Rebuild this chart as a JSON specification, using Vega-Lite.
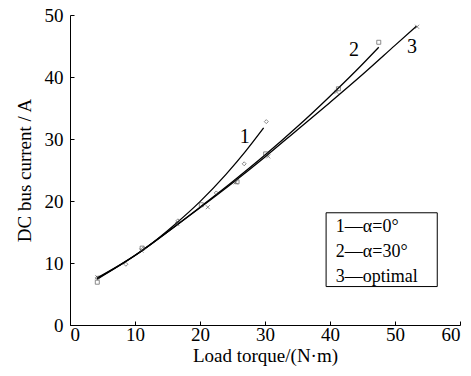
{
  "$schema": "https://vega.github.io/schema/vega-lite/v6.json",
  "autosize": {"type": "none"},
  "padding": {"left": 70, "top": 15, "right": 11, "bottom": 51},
  "width": 390,
  "height": 310,
  "background": "white",
  "config": {
    "view": {"stroke": null},
    "font": "Liberation Serif",
    "axis": {"labelFont": "Liberation Serif", "titleFont": "Liberation Serif", "labelFontSize": 19, "titleFontSize": 19, "titleFontWeight": "normal", "labelColor": "black", "titleColor": "black", "domainColor": "black", "tickColor": "black", "grid": false, "tickSize": -4}
  },
  "datasets": {
    "lines": [
      {"curve": "1", "x": 4.2, "y": 7.6}, {"curve": "1", "x": 8, "y": 9.9}, {"curve": "1", "x": 12, "y": 12.7}, {"curve": "1", "x": 16, "y": 16.1}, {"curve": "1", "x": 20, "y": 19.9}, {"curve": "1", "x": 24, "y": 24.3}, {"curve": "1", "x": 27, "y": 28.0}, {"curve": "1", "x": 29.8, "y": 31.8},
      {"curve": "2", "x": 4.2, "y": 7.4}, {"curve": "2", "x": 10, "y": 11.2}, {"curve": "2", "x": 15, "y": 15.0}, {"curve": "2", "x": 20, "y": 19.0}, {"curve": "2", "x": 25, "y": 23.1}, {"curve": "2", "x": 30, "y": 27.4}, {"curve": "2", "x": 35, "y": 32.0}, {"curve": "2", "x": 40, "y": 36.9}, {"curve": "2", "x": 44, "y": 41.0}, {"curve": "2", "x": 47.5, "y": 44.8},
      {"curve": "3", "x": 4.2, "y": 7.5}, {"curve": "3", "x": 10, "y": 11.2}, {"curve": "3", "x": 15, "y": 15.0}, {"curve": "3", "x": 20, "y": 18.9}, {"curve": "3", "x": 25, "y": 22.9}, {"curve": "3", "x": 30, "y": 27.1}, {"curve": "3", "x": 35, "y": 31.5}, {"curve": "3", "x": 40, "y": 35.9}, {"curve": "3", "x": 45, "y": 40.4}, {"curve": "3", "x": 50, "y": 45.1}, {"curve": "3", "x": 53.3, "y": 48.2}
    ],
    "points": [
      {"curve": "1", "x": 4.2, "y": 7.6}, {"curve": "1", "x": 8.6, "y": 9.8}, {"curve": "1", "x": 11.3, "y": 12.3}, {"curve": "1", "x": 16.6, "y": 16.8}, {"curve": "1", "x": 22.5, "y": 21.3}, {"curve": "1", "x": 26.8, "y": 26.0}, {"curve": "1", "x": 30.2, "y": 32.8},
      {"curve": "2", "x": 4.2, "y": 6.9}, {"curve": "2", "x": 11.1, "y": 12.4}, {"curve": "2", "x": 20.2, "y": 19.4}, {"curve": "2", "x": 25.7, "y": 23.1}, {"curve": "2", "x": 30.1, "y": 27.6}, {"curve": "2", "x": 41.3, "y": 38.1}, {"curve": "2", "x": 47.5, "y": 45.6},
      {"curve": "3", "x": 4.2, "y": 7.7}, {"curve": "3", "x": 11.0, "y": 12.0}, {"curve": "3", "x": 16.5, "y": 16.3}, {"curve": "3", "x": 21.2, "y": 19.0}, {"curve": "3", "x": 25.5, "y": 23.0}, {"curve": "3", "x": 30.5, "y": 27.2}, {"curve": "3", "x": 41.0, "y": 37.6}, {"curve": "3", "x": 53.4, "y": 48.1}
    ],
    "labels": [
      {"x": 26.9, "y": 30.3, "t": "1"},
      {"x": 43.7, "y": 44.3, "t": "2"},
      {"x": 52.6, "y": 44.8, "t": "3"}
    ],
    "legendText": [
      {"x": 40.9, "y": 15.8, "t": "1—α=0°"},
      {"x": 40.9, "y": 11.8, "t": "2—α=30°"},
      {"x": 40.9, "y": 7.8, "t": "3—optimal"}
    ],
    "legendBox": [{"x": 39.4, "x2": 56.5, "y": 18.1, "y2": 6.2}]
  },
  "layer": [
    {
      "data": {"name": "lines"},
      "mark": {"type": "line", "color": "black", "strokeWidth": 1.3, "interpolate": "monotone"},
      "encoding": {
        "x": {"field": "x", "type": "quantitative", "scale": {"domain": [0, 60], "nice": false}, "axis": {"values": [0, 10, 20, 30, 40, 50, 60], "title": "Load torque/(N·m)", "titlePadding": 2, "labelPadding": 4}},
        "y": {"field": "y", "type": "quantitative", "scale": {"domain": [0, 50], "nice": false}, "axis": {"values": [0, 10, 20, 30, 40, 50], "title": "DC bus current / A", "titlePadding": 10, "labelPadding": 11}},
        "detail": {"field": "curve"}
      }
    },
    {
      "data": {"name": "points"},
      "mark": {"type": "point", "filled": false, "strokeWidth": 0.8, "size": 16, "color": "#333"},
      "encoding": {
        "x": {"field": "x", "type": "quantitative"},
        "y": {"field": "y", "type": "quantitative"},
        "shape": {"field": "curve", "type": "nominal", "scale": {"domain": ["1", "2", "3"], "range": ["diamond", "square", "M-1,-1L1,1M-1,1L1,-1"]}, "legend": null}
      }
    },
    {
      "data": {"name": "labels"},
      "mark": {"type": "text", "fontSize": 20, "font": "Liberation Serif", "color": "black"},
      "encoding": {
        "x": {"field": "x", "type": "quantitative"},
        "y": {"field": "y", "type": "quantitative"},
        "text": {"field": "t"}
      }
    },
    {
      "data": {"name": "legendBox"},
      "mark": {"type": "rect", "fill": "white", "stroke": "black", "strokeWidth": 1},
      "encoding": {
        "x": {"field": "x", "type": "quantitative"},
        "x2": {"field": "x2"},
        "y": {"field": "y", "type": "quantitative"},
        "y2": {"field": "y2"}
      }
    },
    {
      "data": {"name": "legendText"},
      "mark": {"type": "text", "fontSize": 18, "font": "Liberation Serif", "color": "black", "align": "left", "baseline": "middle"},
      "encoding": {
        "x": {"field": "x", "type": "quantitative"},
        "y": {"field": "y", "type": "quantitative"},
        "text": {"field": "t"}
      }
    }
  ]
}
